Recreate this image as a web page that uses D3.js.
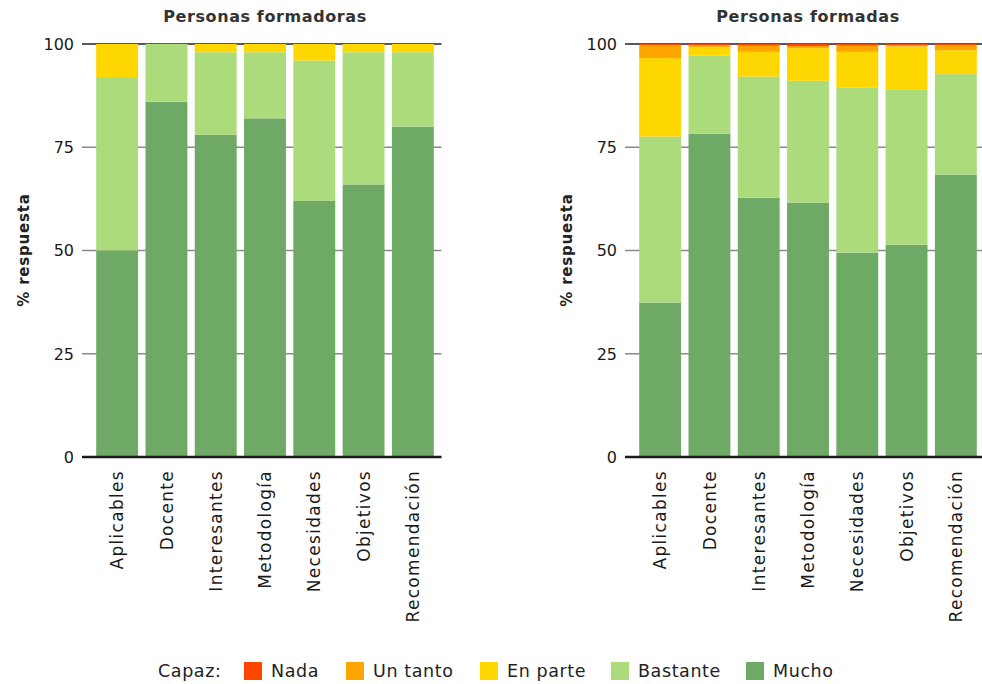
<!DOCTYPE html>
<html><head><meta charset="utf-8">
<script src="https://cdn.jsdelivr.net/npm/d3@7"></script>
<style>
html,body{margin:0;padding:0;background:#fff;}
svg{display:block;font-family:"DejaVu Sans",sans-serif;}
</style></head>
<body>
<svg id="chart" width="982" height="684"></svg>
<script>
const categories = ["Aplicables","Docente","Interesantes","Metodología","Necesidades","Objetivos","Recomendación"];
const levels = ["Nada","Un tanto","En parte","Bastante","Mucho"];
const levelColors = ["#ff4500","#ffa500","#ffd700","#acdb7c","#6fa966"];
const yTicks = [0,25,50,75,100];

// Personas formadoras
const formadorasMucho    = [50, 86, 78, 82, 62, 66, 80];
const formadorasBastante = [42, 14, 20, 16, 34, 32, 18];
const formadorasEnParte  = [8, 0, 2, 2, 4, 2, 2];
const formadorasUnTanto  = [0, 0, 0, 0, 0, 0, 0];
const formadorasNada     = [0, 0, 0, 0, 0, 0, 0];

// Personas formadas
const formadasMucho    = [37.4, 78.3, 62.8, 61.6, 49.5, 51.4, 68.4];
const formadasBastante = [40.2, 18.9, 29.3, 29.5, 39.9, 37.5, 24.3];
const formadasEnParte  = [19.0, 2.1, 6.0, 7.9, 8.7, 10.5, 5.8];
const formadasUnTanto  = [3.1, 0.4, 1.5, 0.5, 1.5, 0.3, 1.2];
const formadasNada     = [0.3, 0.3, 0.4, 0.5, 0.4, 0.3, 0.3];

function buildRows(mucho, bastante, enParte, unTanto, nada){
  return categories.map((c,i)=>({cat:c,"Mucho":mucho[i],"Bastante":bastante[i],"En parte":enParte[i],"Un tanto":unTanto[i],"Nada":nada[i]}));
}

const panels = [
  {title:"Personas formadoras", rows: buildRows(formadorasMucho, formadorasBastante, formadorasEnParte, formadorasUnTanto, formadorasNada), dx:0},
  {title:"Personas formadas", rows: buildRows(formadasMucho, formadasBastante, formadasEnParte, formadasUnTanto, formadasNada), dx:543}
];

const svg = d3.select("#chart");
const color = d3.scaleOrdinal().domain(levels).range(levelColors);
const stackKeys = ["Mucho","Bastante","En parte","Un tanto","Nada"];
const stack = d3.stack().keys(stackKeys);

const y = d3.scaleLinear().domain([0,100]).range([457,44]);

panels.forEach(p=>{
  const g = svg.append("g").attr("transform",`translate(${p.dx},0)`);
  const lineL = 82, lineR = 441.5;
  const x = d3.scaleBand().domain(categories).range([92.5,437.5]).paddingInner(0.15).paddingOuter(0.075);

  // gridlines
  g.append("g").selectAll("line").data(yTicks.filter(t=>t>0)).join("line")
    .attr("x1",lineL).attr("x2",lineR)
    .attr("y1",d=>y(d)).attr("y2",d=>y(d))
    .attr("stroke",d=>d===100?"#222":"#8a8a8a")
    .attr("stroke-width",1.5);

  // bars
  const series = stack(p.rows);
  g.append("g").selectAll("g").data(series).join("g")
    .attr("fill",d=>color(d.key))
    .selectAll("rect").data(d=>d).join("rect")
    .attr("x",d=>x(d.data.cat))
    .attr("width",x.bandwidth())
    .attr("y",d=>y(d[1]))
    .attr("height",d=>Math.max(0,y(d[0])-y(d[1])));

  // baseline
  g.append("line").attr("x1",lineL).attr("x2",lineR).attr("y1",y(0)).attr("y2",y(0))
    .attr("stroke","#1a1a1a").attr("stroke-width",2.5);

  // y tick labels
  g.append("g").selectAll("text").data(yTicks).join("text")
    .attr("x",74).attr("y",d=>y(d)).attr("dy","0.36em")
    .attr("text-anchor","end").attr("font-size",16).attr("fill","#1a1a1a")
    .text(d=>d);

  // x labels
  g.append("g").selectAll("text").data(categories).join("text")
    .attr("transform",d=>`translate(${x(d)+x.bandwidth()/2},470) rotate(-90)`)
    .attr("dy","0.36em")
    .attr("text-anchor","end").attr("font-size",17).attr("letter-spacing",1.3).attr("fill","#1a1a1a")
    .text(d=>d);

  // y title
  g.append("text").attr("transform","translate(24,250) rotate(-90)")
    .attr("dy","0.36em").attr("text-anchor","middle")
    .attr("font-size",15).attr("letter-spacing",0.8).attr("font-weight","bold").attr("fill","#222")
    .text("% respuesta");

  // panel title
  g.append("text").attr("x",(x.range()[0]+x.range()[1])/2).attr("y",22)
    .attr("text-anchor","middle").attr("font-size",16).attr("letter-spacing",0.6).attr("font-weight","bold").attr("fill","#333")
    .text(p.title);
});

// legend
const legend = svg.append("g");
legend.append("text").attr("x",158).attr("y",671).attr("dy","0.36em")
  .attr("font-size",17.5).attr("letter-spacing",0.6).attr("fill","#222").text("Capaz:");
const legendX = [244,346,480,611,746];
levels.forEach((lv,i)=>{
  legend.append("rect").attr("x",legendX[i]).attr("y",662).attr("width",18).attr("height",18).attr("fill",color(lv));
  legend.append("text").attr("x",legendX[i]+27).attr("y",671).attr("dy","0.36em")
    .attr("font-size",17.5).attr("letter-spacing",0.6).attr("fill","#222").text(lv);
});
</script>
</body></html>
